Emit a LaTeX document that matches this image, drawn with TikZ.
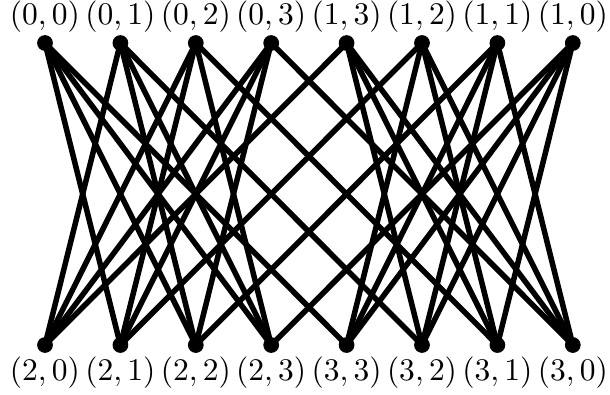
\documentclass[tikz,border=0pt]{standalone}
\usepackage{amsmath,amssymb}
\usepackage{tikz}
\usetikzlibrary{positioning}
\tikzset{vtx/.style={circle,fill,inner sep=0pt,minimum size=5pt},
  lab/.style={inner sep=0pt},
  edge/.style={line width=1.75pt}}

\begin{document}
\begin{tikzpicture}[every node/.style={font=\fontsize{10.4}{12.5}\selectfont}]
\useasboundingbox (-0.502,-0.547) rectangle (6.305,3.85);
% top and bottom rows
\foreach \p [count=\i from 0] in {{0,0},{0,1},{0,2},{0,3},{1,3},{1,2},{1,1},{1,0}} {
  \node[vtx] (t\i) at (0.8414*\i,3.37) {};
  \node[lab,above=0.6pt of t\i] (lt\i) {$(\p)$};
}
\foreach \p [count=\i from 0] in {{2,0},{2,1},{2,2},{2,3},{3,3},{3,2},{3,1},{3,0}} {
  \node[vtx] (b\i) at (0.8414*\i,0) {};
  \node[lab,below=0.8pt of b\i] (lb\i) {$(\p)$};
}
% edges inside each half
\foreach \i in {0,...,3} {
  \foreach \k in {0,...,3} {
    \ifnum\i=\k\else
      \pgfmathtruncatemacro{\ii}{\i+4}\pgfmathtruncatemacro{\kk}{\k+4}
      \draw[edge] (t\i.center) -- (b\k.center);
      \draw[edge] (t\ii.center) -- (b\kk.center);
    \fi
  }
  % crossing edges
  \pgfmathtruncatemacro{\j}{\i+4}
  \draw[edge] (t\i.center) -- (b\j.center);
  \draw[edge] (t\j.center) -- (b\i.center);
}
\end{tikzpicture}
\end{document}
